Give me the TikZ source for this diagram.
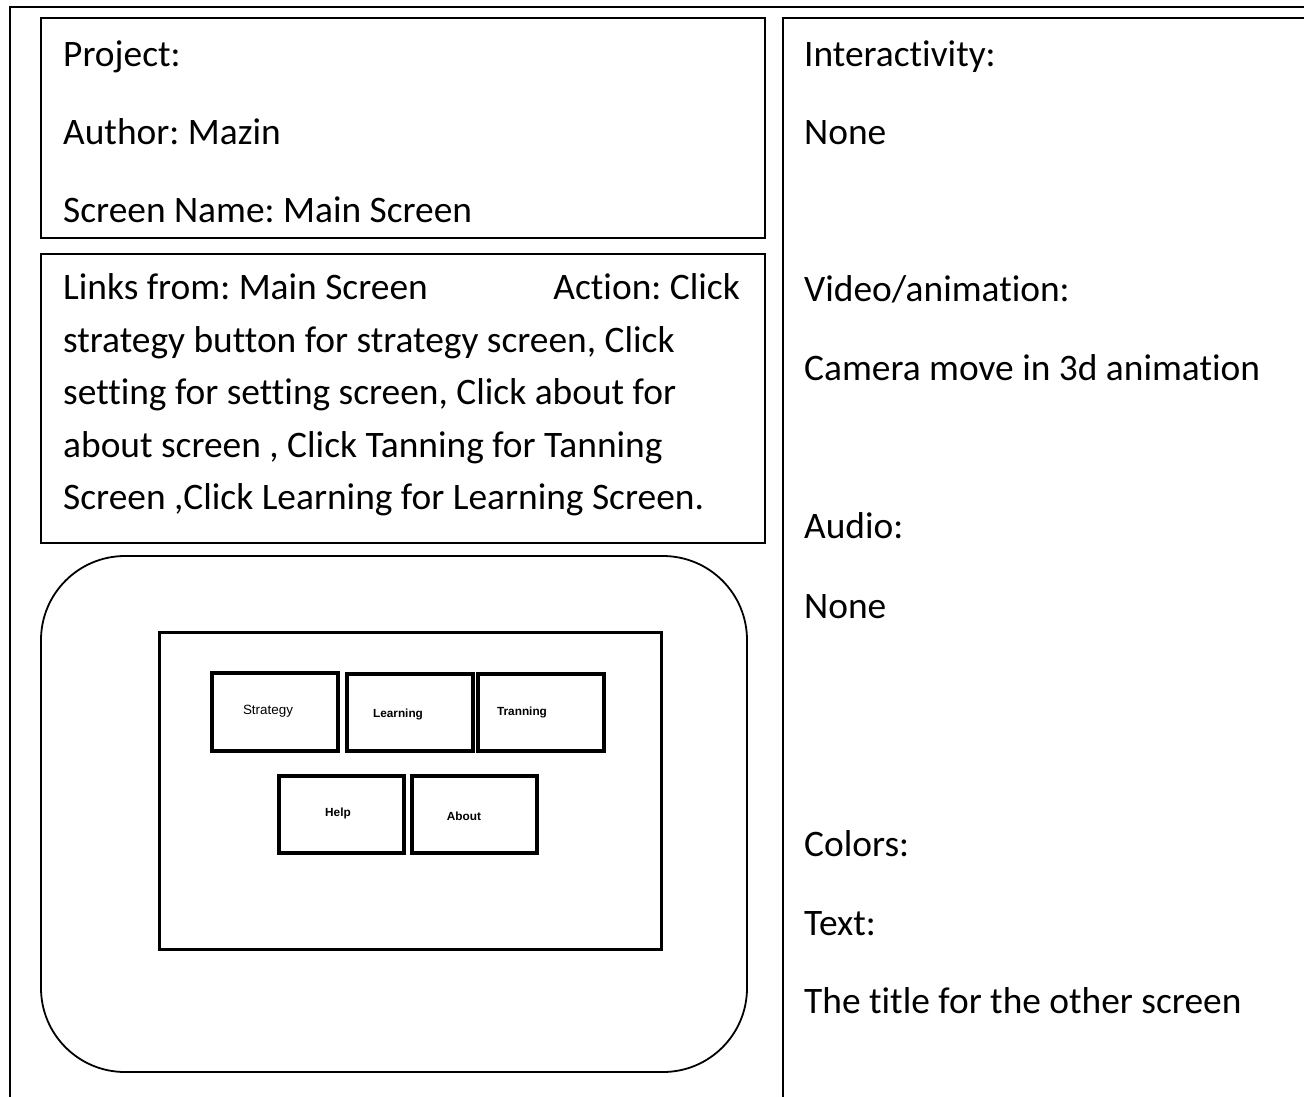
\documentclass[tikz,border=0pt]{standalone}
\usepackage{fontspec}
\setmainfont{Carlito}[Ligatures=NoCommon]
\newfontfamily\btnfont{Liberation Sans}
\frenchspacing
\begin{document}
\begin{tikzpicture}[x=1pt, y=-1pt,
  frame/.style={draw=black, line width=2pt},
  panel/.style={draw=black, line width=1.8pt},
  screenbox/.style={draw=black, line width=3pt},
  button/.style={draw=black, line width=3.6pt, inner sep=0pt},
  txt/.style={anchor=base west, inner sep=0pt, font=\fontsize{37.4}{42}\selectfont},
  btnreg/.style={inner sep=0pt, font=\btnfont\fontsize{13.4}{15}\selectfont},
  btnbold/.style={inner sep=0pt, font=\btnfont\bfseries\fontsize{11.8}{14}\selectfont}]
  \useasboundingbox (0,0) rectangle (1304,1096);
  \fill[white] (0,0) rectangle (1304,1096);

  % outer frame and right panel
  \draw[frame] (10,1100) -- (10,7) -- (1310,7);
  \draw[panel] (783,1100) -- (783,18) -- (1310,18);

  % left column boxes
  \draw[panel] (41,18) rectangle (765,238);
  \draw[panel] (41,254) rectangle (765,543);
  \draw[panel, rounded corners=84pt] (41,556) rectangle (747,1072);

  % screen mock-up
  \draw[screenbox] (159,632) rectangle (661,949);
  \node[button, minimum width=126pt, minimum height=78pt] (strategy) at (275,712) {};
  \node[button, minimum width=126pt, minimum height=77pt] (learning) at (410,712.5) {};
  \node[button, minimum width=126pt, minimum height=77pt] (tranning) at (541,712.5) {};
  \node[button, minimum width=125pt, minimum height=77pt] (help) at (341.5,814.5) {};
  \node[button, minimum width=125pt, minimum height=77pt] (about) at (474.5,814.5) {};
  \node[btnreg]  (tstrategy) at (268,711) {Strategy};
  \node[btnbold] (tlearning) at (398,714) {Learning};
  \node[btnbold] (ttranning) at (522,712) {Tranning};
  \node[btnbold] (thelp)     at (338,813) {Help};
  \node[btnbold] (tabout)    at (464,816) {About};

  % header box text
  \node[txt] (project) at (63,66)  {Project:};
  \node[txt] (author)  at (63,144) {Author: Mazin};
  \node[txt] (sname)   at (63,222) {Screen Name: Main Screen};

  % links box text
  \node[txt] (links1) at (63,299) {Links from: Main Screen};
  \node[txt, anchor=base east] (links1b) at (740,299) {Action: Click};
  \node[txt] (links2) at (63,352) {strategy button for strategy screen, Click};
  \node[txt] (links3) at (63,404) {setting for setting screen, Click about for};
  \node[txt] (links4) at (63,457) {about screen , Click Tanning for Tanning};
  \node[txt] (links5) at (63,509) {Screen ,Click Learning for Learning Screen.};

  % right panel text
  \node[txt] (inter)  at (804,66)   {Interactivity:};
  \node[txt] (none1)  at (804,144)  {None};
  \node[txt] (video)  at (804,301)  {Video/animation:};
  \node[txt] (camera) at (804,380)  {Camera move in 3d animation};
  \node[txt] (audio)  at (804,538)  {Audio:};
  \node[txt] (none2)  at (804,618)  {None};
  \node[txt] (colors) at (804,856)  {Colors:};
  \node[txt] (text)   at (804,935)  {Text:};
  \node[txt] (title)  at (804,1013) {The title for the other screen};
\end{tikzpicture}
\end{document}
